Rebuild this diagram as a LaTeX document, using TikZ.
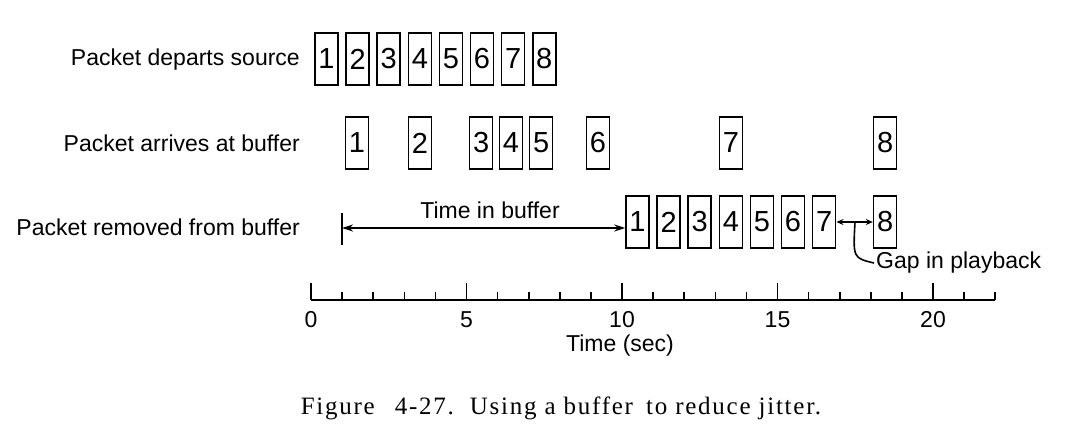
\documentclass[tikz,border=0pt]{standalone}
\usepackage{fontspec}
\setmainfont{Liberation Sans}
\newfontfamily\capfont[LetterSpace=7]{Liberation Serif}
\usetikzlibrary{arrows.meta}
\begin{document}
\begin{tikzpicture}[x=1pt,y=-1pt,
    pkt/.style={draw=black,line width=1.6pt,minimum width=23pt,minimum height=52pt,
      inner sep=0pt,font=\fontsize{29}{29}\selectfont},
    lbl/.style={inner sep=0pt,font=\fontsize{23}{23}\selectfont},
    rowlabel/.style={lbl,anchor=east},
    line/.style={line width=1.6pt},
    >={Stealth[length=11pt,width=7pt]}]
    \useasboundingbox (0,0) rectangle (1070,440);
    \node[rowlabel] (lsrc) at (300,60) {Packet departs source};
    \node[rowlabel] (larr) at (300,143) {Packet arrives at buffer};
    \node[rowlabel] (lrem) at (300,227) {Packet removed from buffer};
    \begin{scope}[shift={(311,0)},x=31.1pt]
      \foreach \n in {1,...,8}
        \node[pkt] (s\n) at (\n-0.5,59) {\n};
      \foreach \n/\t in {1/1.48,2/3.5,3/5.47,4/6.43,5/7.4,6/9.23,7/13.5,8/18.46}
        \node[pkt] (a\n) at (\t,143) {\n};
      \foreach \n in {1,...,7}
        \node[pkt] (r\n) at (\n+9.5,222) {\n};
      \node[pkt] (r8) at (18.46,222) {8};
      \coordinate (bar) at (1,228);
      \coordinate (axs) at (0,300);
      \coordinate (axe) at (22,300);
      \draw[line] (axs) -- (axe);
      \foreach \t in {0,...,22}
        \draw[line] (\t,300) -- (\t,292);
      \foreach \t in {0,5,...,20} {
        \draw[line] (\t,300) -- (\t,283);
        \node[lbl] (tl\t) at (\t,320) {\t};
      }
    \end{scope}
    \draw[line] ([yshift=-17pt]bar) -- ([yshift=15pt]bar);
    \draw[line,<->] (bar) -- (bar -| r1.west);
    \node[lbl,anchor=south] (tib) at (490,219) {Time in buffer};
    \draw[line,<->,>={Stealth[length=7pt,width=6pt]}] (r7.east) -- (r8.west);
    \coordinate (gapmid) at (855,222);
    \node[lbl,anchor=west] (gaptxt) at (876,263) {Gap in playback};
    \draw[line] (gapmid) .. controls (853,258) .. ([xshift=-2pt]gaptxt.west);
    \node[lbl] (taxis) at (620,346) {Time (sec)};
    \node[inner sep=0pt,font=\capfont\fontsize{25}{25}\selectfont] (cap) at (561,408)
      {Figure\hspace{20pt}4-27.\hspace{16pt}Using a buffer\hspace{13pt}to reduce jitter.};
\end{tikzpicture}
\end{document}
